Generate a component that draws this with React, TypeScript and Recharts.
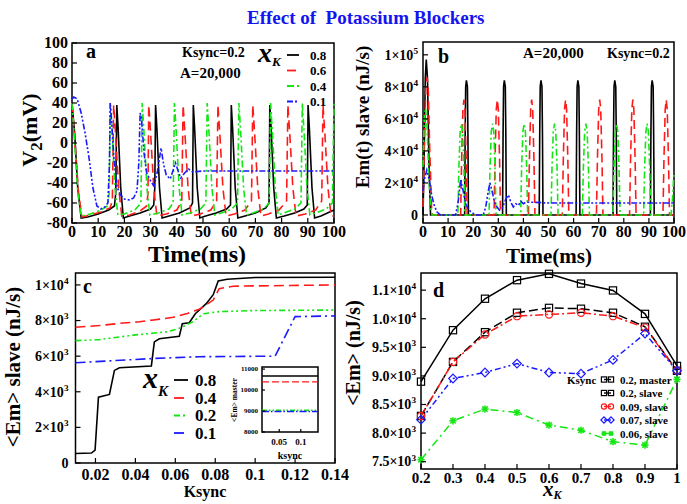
import React from 'react';
import { LineChart, Line, XAxis, YAxis, ReferenceArea, Legend, Label } from 'recharts';

const W = 687;
const H = 504;
const SERIF = '"Liberation Serif", "Times New Roman", Times, serif';
const AXIS_W = 60;
const AXIS_H = 30;

const BLACK = '#000000';
const RED = '#ff1a1a';
const GREEN = '#14e614';
const BLUE = '#1a1aff';

// ---- panel a: slave membrane potential V2 (mV) vs time (ms), Ksync = 0.2
const V2_XK08 = [
  [0, 40], [1, 10], [2.2, -45], [3.5, -75], [6, -74], [10, -71], [14, -67], [16.2, -63], [16.7, -50], [17.1, 38], [17.6, 15], [18.6, -45], [19.6, -75],
  [22, -73], [26, -70], [30, -66], [31.2, -62], [31.6, -45], [31.9, 38], [32.4, 15], [33.4, -45], [34.4, -75],
  [37, -73], [41, -70], [45, -65], [46, -60], [46.3, 38], [46.8, 15], [47.8, -45], [48.8, -75],
  [51, -73], [55, -70], [59, -66], [60.5, -62], [60.8, 38], [61.3, 15], [62.3, -45], [63.3, -75],
  [66, -73], [70, -70], [74, -65], [75.2, -60], [75.5, 38], [76, 15], [77, -45], [78, -75],
  [81, -73], [85, -70], [88.5, -66], [89.8, -62], [90.1, 38], [90.6, 15], [91.6, -45], [92.6, -75],
  [95, -73], [100, -67],
];
const V2_XK06 = [
  [0, 40], [1, 5], [2.5, -50], [3.8, -74], [7, -72], [11, -69], [14.5, -65], [15.4, -58], [15.9, 38], [16.6, 10], [17.8, -45], [19, -73],
  [22, -72], [26, -68], [28.5, -63], [29, -50], [29.3, 38], [30, 10], [31.2, -45], [32.4, -73],
  [36, -71], [40, -67], [41.9, -58], [42.4, 38], [43.1, 10], [44.3, -45], [45.5, -73],
  [49, -71], [53, -67], [55.2, -58], [55.7, 38], [56.4, 10], [57.6, -45], [58.8, -73],
  [62, -71], [66, -67], [68.5, -58], [69, 38], [69.7, 10], [70.9, -45], [72.1, -73],
  [75, -71], [79, -67], [81.9, -58], [82.4, 38], [83.1, 10], [84.3, -45], [85.5, -73],
  [89, -71], [93, -67], [95.3, -58], [95.8, 38], [96.5, 10], [97.7, -45], [98.9, -73], [100, -73],
];
const V2_XK04 = [
  [0, 40], [0.8, 10], [2.2, -50], [3.5, -73], [7, -71], [11, -67], [13.5, -63], [14.2, -50], [14.6, 40], [15.3, 10], [16.4, -45], [17.5, -72],
  [20, -71], [24, -67], [26.3, -60], [26.8, 40], [27.5, 10], [28.6, -45], [29.7, -72],
  [33, -70], [37, -66], [38.6, -60], [39.1, 40], [39.8, 10], [40.9, -45], [42, -72],
  [45, -70], [49, -66], [51.1, -60], [51.6, 40], [52.3, 10], [53.4, -45], [54.5, -72],
  [57, -70], [61, -66], [63.2, -60], [63.7, 40], [64.4, 10], [65.5, -45], [66.6, -72],
  [69, -70], [73, -66], [75.3, -60], [75.8, 40], [76.5, 10], [77.6, -45], [78.7, -72],
  [81, -70], [85, -66], [87.4, -60], [87.9, 40], [88.6, 10], [89.7, -45], [90.8, -72],
  [93, -70], [97, -66], [99.4, -60], [100, 40],
];
const V2_XK01 = [
  [0, 44], [0.7, 46], [2, 44], [3.5, 30], [5, 10], [6.5, -15], [8, -45], [9.5, -63], [11, -66], [12.5, -64], [13.7, -60],
  [14.3, -20], [14.6, 40], [15.2, 20], [16, -15], [17.2, -44], [18.5, -52], [20, -56], [22, -57], [23.5, -55], [24.8, -48],
  [25.5, -20], [26, 30], [26.5, 25], [27.5, -10], [28.5, -30], [30, -38], [31.3, -43], [32.5, -30], [34, -5], [35, -22],
  [36, -32], [37.5, -36], [38.5, -28], [39.5, -20], [40.5, -28], [41.5, -35], [43, -30], [44.5, -26], [46, -29], [50, -28], [100, -28],
];

// ---- panel b: slave energy consumption Em(t) (nJ/s) vs time (ms)
const EMT_XK08 = [
  [0, 0], [0.4, 30000], [0.9, 85000], [1.3, 97000], [1.8, 85000], [2.4, 30000], [3, 0],
  [16.6, 0], [16.8, 50000], [17, 80000], [17.3, 84000], [17.7, 80000], [17.9, 50000], [18.1, 0],
  [31.7, 0], [31.9, 50000], [32.1, 80000], [32.4, 84000], [32.8, 80000], [33, 50000], [33.2, 0],
  [46.3, 0], [46.5, 50000], [46.7, 80000], [47, 84000], [47.4, 80000], [47.6, 50000], [47.8, 0],
  [61, 0], [61.2, 50000], [61.4, 80000], [61.7, 84000], [62.1, 80000], [62.3, 50000], [62.5, 0],
  [75.7, 0], [75.9, 50000], [76.1, 80000], [76.4, 84000], [76.8, 80000], [77, 50000], [77.2, 0],
  [90.6, 0], [90.8, 50000], [91, 80000], [91.3, 84000], [91.7, 80000], [91.9, 50000], [92.1, 0],
  [100, 0],
];
const EMT_XK06 = [
  [0, 5000], [0.6, 50000], [1.2, 82000], [1.6, 86000], [2.1, 78000], [2.7, 40000], [3.4, 5000], [3.8, 0],
  [15, 0], [15.4, 35000], [15.9, 66000], [16.3, 72000], [16.7, 66000], [17.2, 35000], [17.6, 0],
  [28.3, 0], [28.7, 35000], [29.2, 66000], [29.6, 72000], [30, 66000], [30.5, 35000], [30.9, 0],
  [42, 0], [42.4, 35000], [42.9, 66000], [43.3, 72000], [43.7, 66000], [44.2, 35000], [44.6, 0],
  [55.5, 0], [55.9, 35000], [56.4, 66000], [56.8, 72000], [57.2, 66000], [57.7, 35000], [58.1, 0],
  [69.1, 0], [69.5, 35000], [70, 66000], [70.4, 72000], [70.8, 66000], [71.3, 35000], [71.7, 0],
  [82.3, 0], [82.7, 35000], [83.2, 66000], [83.6, 72000], [84, 66000], [84.5, 35000], [84.9, 0],
  [95.6, 0], [96, 35000], [96.5, 66000], [96.9, 72000], [97.3, 66000], [97.8, 35000], [98.2, 0],
  [100, 0],
];
const EMT_XK04 = [
  [0, 30000], [0.5, 60000], [1, 67000], [1.6, 55000], [2.3, 25000], [3, 5000], [3.6, 0],
  [13.9, 0], [14.3, 30000], [14.8, 52000], [15.3, 57000], [15.8, 52000], [16.3, 30000], [16.7, 0],
  [26.3, 0], [26.7, 30000], [27.2, 52000], [27.7, 57000], [28.2, 52000], [28.7, 30000], [29.1, 0],
  [38.9, 0], [39.3, 30000], [39.8, 52000], [40.3, 57000], [40.8, 52000], [41.3, 30000], [41.7, 0],
  [51, 0], [51.4, 30000], [51.9, 52000], [52.4, 57000], [52.9, 52000], [53.4, 30000], [53.8, 0],
  [63.5, 0], [63.9, 30000], [64.4, 52000], [64.9, 57000], [65.4, 52000], [65.9, 30000], [66.3, 0],
  [75.7, 0], [76.1, 30000], [76.6, 52000], [77.1, 57000], [77.6, 52000], [78.1, 30000], [78.5, 0],
  [87.9, 0], [88.3, 30000], [88.8, 52000], [89.3, 57000], [89.8, 52000], [90.3, 30000], [90.7, 0],
  [98.8, 0], [99.4, 10000], [100, 27000],
];
const EMT_XK01 = [
  [0, 15000], [0.5, 22000], [1.5, 28000], [2.5, 22000], [3.5, 12000], [4.5, 6000], [5.5, 2000], [7, 0], [13, 0],
  [14, 8000], [15, 22000], [16, 15000], [17, 7000], [18, 4000], [19, 2000], [20, 1000], [21, 0], [24, 0],
  [25, 5000], [26, 15000], [26.7, 20000], [27.5, 15000], [28.5, 8000], [29.5, 5000], [30.5, 3000], [31.5, 4000],
  [33, 10000], [34, 12500], [35, 8000], [36, 5000], [37, 7000], [38, 6000], [39, 8500], [40, 7000], [41, 8000],
  [43, 8000], [50, 7500], [100, 7500],
];

// ---- panel c: mean slave energy <Em> vs Ksync
const EMC_XK08 = [
  [0.01, 530], [0.018, 560], [0.0198, 720], [0.0215, 3700], [0.027, 3850], [0.0295, 5200], [0.032, 5350], [0.048, 5450],
  [0.0495, 6800], [0.052, 6980], [0.062, 7120], [0.0635, 7820], [0.067, 7880], [0.07, 8380], [0.0755, 8950], [0.079, 9450],
  [0.0815, 10220], [0.086, 10320], [0.1, 10420], [0.14, 10430],
];
const EMC_XK04 = [
  [0.01, 7620], [0.022, 7720], [0.032, 7840], [0.042, 7930], [0.049, 8030], [0.059, 8180], [0.066, 8400], [0.072, 8630],
  [0.079, 9150], [0.082, 9790], [0.089, 9930], [0.14, 10000],
];
const EMC_XK02 = [
  [0.01, 6870], [0.022, 6930], [0.039, 7180], [0.056, 7370], [0.062, 7560], [0.069, 7940], [0.074, 8380], [0.082, 8500],
  [0.099, 8560], [0.14, 8590],
];
const EMC_XK01 = [[0.01, 5630], [0.049, 5870], [0.072, 5970], [0.11, 6000], [0.12, 8220], [0.14, 8260]];

// inset: master <Em> vs ksync
const INSET_KSYNC = [0.01, 0.14];
const MASTER_XK08 = [10670, 10670];
const MASTER_XK04 = [10390, 10390];
const MASTER_XK02 = [9030, 9030];
const MASTER_XK01 = [8980, 8980];

// ---- panel d: mean energy vs xK
const XK = [0.2, 0.3, 0.4, 0.5, 0.6, 0.7, 0.8, 0.9, 1];
const EM_MASTER_K02 = [8900, 9800, 10350, 10675, 10785, 10615, 10495, 10085, 9175];
const EM_SLAVE_K02 = [8300, 9245, 9765, 10105, 10190, 10175, 10105, 9860, 9090];
const EM_SLAVE_K009 = [8300, 9245, 9725, 10045, 10075, 10105, 10045, 9845, 9090];
const EM_SLAVE_K007 = [8235, 8955, 9060, 9215, 9060, 9040, 9280, 9740, 9090];
const EM_SLAVE_K006 = [7535, 8215, 8420, 8360, 8140, 8050, 7850, 7790, 8940];

// ticks
const T_A_X = [0, 10, 20, 30, 40, 50, 60, 70, 80, 90, 100];
const T_A_Y = [-80, -60, -40, -20, 0, 20, 40, 60, 80, 100];
const T_B_Y = [0, 20000, 40000, 60000, 80000, 100000];
const L_B_Y = ['0', '2×10^4', '4×10^4', '6×10^4', '8×10^4', '1×10^5'];
const T_C_X = [0.02, 0.04, 0.06, 0.08, 0.1, 0.12, 0.14];
const L_C_X = ['0.02', '0.04', '0.06', '0.08', '0.1', '0.12', '0.14'];
const T_C_Y = [0, 2000, 4000, 6000, 8000, 10000];
const L_C_Y = ['0', '2×10^3', '4×10^3', '6×10^3', '8×10^3', '1×10^4'];
const T_IN_X = [0.05, 0.1];
const L_IN_X = ['0.05', '0.1'];
const T_IN_Y = [8000, 9000, 10000, 11000];
const T_D_X = [0.2, 0.3, 0.4, 0.5, 0.6, 0.7, 0.8, 0.9, 1];
const L_D_X = ['0.2', '0.3', '0.4', '0.5', '0.6', '0.7', '0.8', '0.9', '1'];
const T_D_Y = [7500, 8000, 8500, 9000, 9500, 10000, 10500];
const L_D_Y = ['7.5×10^3', '8.0×10^3', '8.5×10^3', '9.0×10^3', '9.5×10^3', '1.0×10^4', '1.1×10^4'];

type Box = { left: number; top: number; right: number; bottom: number };
const BOX_A: Box = { left: 72, top: 43, right: 334, bottom: 223 };
const BOX_B: Box = { left: 423, top: 42, right: 674, bottom: 223 };
const BOX_C: Box = { left: 75.5, top: 273, right: 335, bottom: 463 };
const BOX_IN: Box = { left: 262, top: 367, right: 318, bottom: 432 };
const BOX_D: Box = { left: 421, top: 273, right: 677, bottom: 469 };

const marginFor = (b: Box) => ({
  left: b.left - AXIS_W,
  top: b.top,
  right: W - b.right,
  bottom: H - b.bottom - AXIS_H,
});

const pts = (rows: number[][]) => rows.map(([t, v]) => ({ t, v }));

// "8×10^4" -> 8×10 with a raised 4
function sci(label: string, fs: number) {
  const [base, exp] = label.split('^');
  if (exp === undefined) return base;
  return (
    <>
      <tspan>{base}</tspan>
      <tspan dy={-fs * 0.42} fontSize={fs * 0.66}>{exp}</tspan>
    </>
  );
}

const pick = (ticks: number[], labels: string[] | null, v: number) => {
  const i = ticks.indexOf(v);
  return labels && i >= 0 ? labels[i] : String(v);
};

// inward tick marks on the frame edge, bold serif labels outside
const bottomTick = (ticks: number[], labels: string[] | null, fs: number, axisY: number, below: number, len = 5) => (p: any) => {
  const { x, payload } = p;
  return (
    <g>
      <line x1={x} x2={x} y1={axisY} y2={axisY - len} stroke="#000" strokeWidth={1.2} />
      <text x={x} y={axisY + below + fs * 0.34} textAnchor="middle" fontSize={fs} fontWeight="bold" fontFamily={SERIF} fill="#000">
        {sci(pick(ticks, labels, payload.value), fs)}
      </text>
    </g>
  );
};

const leftTick = (ticks: number[], labels: string[] | null, fs: number, axisX: number, gap: number, len = 5) => (p: any) => {
  const { y, payload } = p;
  return (
    <g>
      <line x1={axisX} x2={axisX + len} y1={y} y2={y} stroke="#000" strokeWidth={1.2} />
      <text x={axisX - gap} y={y + fs * 0.34} textAnchor="end" fontSize={fs} fontWeight="bold" fontFamily={SERIF} fill="#000">
        {sci(pick(ticks, labels, payload.value), fs)}
      </text>
    </g>
  );
};

const txt = (x: number, y: number, s: string, fs: number, extra: any = {}) => (
  <text x={x} y={y} fontSize={fs} fontWeight="bold" fontFamily={SERIF} fill="#000" {...extra}>{s}</text>
);

const vText = (x: number, y: number, fs: number, children: React.ReactNode) => (
  <text transform={`translate(${x},${y}) rotate(-90)`} textAnchor="middle" fontSize={fs} fontWeight="bold" fontFamily={SERIF} fill="#000">
    {children}
  </text>
);

const xkGlyph = (x: number, y: number, fs: number, sub: number, shift: number) => (
  <text x={x} y={y} fontFamily={SERIF} fontStyle="italic" fontWeight="bold" fill="#000">
    <tspan fontSize={fs}>x</tspan>
    <tspan fontSize={sub} dy={shift}>K</tspan>
  </text>
);

const frame = (x: [number, number], y: [number, number]) => (
  <ReferenceArea x1={x[0]} x2={x[1]} y1={y[0]} y2={y[1]} fill="none" stroke="#000" strokeWidth={1.5} ifOverflow="visible" />
);

const lineProps = { dot: false, activeDot: false, isAnimationActive: false, strokeWidth: 1.6 } as const;

// legend rows: short line sample and a bold label, in series order
const lineLegend = (left: number, top: number, order: string[], x0: number, x1: number, tx: number, ys: number[], fs: number, head: React.ReactNode) =>
  ({ payload }: any) => {
    const items = [...(payload || [])].sort((a: any, b: any) => order.indexOf(a.value) - order.indexOf(b.value));
    return (
      <svg width={W} height={H} style={{ display: 'block', overflow: 'visible', position: 'absolute', left: -left, top: -top }}>
        {head}
        {items.map((e: any, i: number) => (
          <g key={i}>
            <line x1={x0} x2={x1} y1={ys[i]} y2={ys[i]} stroke={e.color} strokeWidth={1.8}
              strokeDasharray={e.payload?.strokeDasharray} />
            {txt(tx, ys[i] + fs * 0.35, e.value, fs)}
          </g>
        ))}
      </svg>
    );
  };

const legendA = lineLegend(250, 40, ['0.8', '0.6', '0.4', '0.1'], 287, 299, 310, [55, 70.5, 86, 101.5], 13, xkGlyph(258, 62, 28, 13, 4));
const legendC = lineLegend(140, 365, ['0.8', '0.4', '0.2', '0.1'], 174, 188, 195, [380, 398, 415.5, 433], 17, xkGlyph(143, 388, 30, 15, 8));

type Marker = 'square' | 'circle' | 'diamond' | 'star';

function marker(kind: Marker, cx: number, cy: number, color: string, s = 3.6, key?: string) {
  if (cx == null || cy == null) return <g key={key} />;
  switch (kind) {
    case 'square':
      return <rect key={key} x={cx - s} y={cy - s} width={2 * s} height={2 * s} fill="none" stroke={color} strokeWidth={1.2} />;
    case 'circle':
      return <circle key={key} cx={cx} cy={cy} r={s} fill="none" stroke={color} strokeWidth={1.2} />;
    case 'diamond': {
      const d = s * 1.2;
      return <path key={key} d={`M${cx},${cy - d}L${cx + d},${cy}L${cx},${cy + d}L${cx - d},${cy}Z`} fill="none" stroke={color} strokeWidth={1.2} />;
    }
    default: {
      const d = s * 0.75;
      return (
        <g key={key} stroke={color} strokeWidth={1.6}>
          <line x1={cx - s} x2={cx + s} y1={cy} y2={cy} />
          <line x1={cx} x2={cx} y1={cy - s} y2={cy + s} />
          <line x1={cx - d} x2={cx + d} y1={cy - d} y2={cy + d} />
          <line x1={cx - d} x2={cx + d} y1={cy + d} y2={cy - d} />
        </g>
      );
    }
  }
}

const D_SERIES: { key: string; name: string; color: string; dash?: string; marker: Marker }[] = [
  { key: 'master02', name: '0.2, master', color: BLACK, marker: 'square' },
  { key: 'slave02', name: '0.2, slave', color: BLACK, dash: '9 4', marker: 'square' },
  { key: 'slave009', name: '0.09, slave', color: RED, dash: '8 3 2 3', marker: 'circle' },
  { key: 'slave007', name: '0.07, slave', color: BLUE, dash: '6 3 2 3 2 3', marker: 'diamond' },
  { key: 'slave006', name: '0.06, slave', color: GREEN, dash: '8 4 2 4', marker: 'star' },
];

const dataD = XK.map((x, i) => ({
  x,
  master02: EM_MASTER_K02[i],
  slave02: EM_SLAVE_K02[i],
  slave009: EM_SLAVE_K009[i],
  slave007: EM_SLAVE_K007[i],
  slave006: EM_SLAVE_K006[i],
}));

const dataInset = INSET_KSYNC.map((k, i) => ({
  k,
  m08: MASTER_XK08[i],
  m04: MASTER_XK04[i],
  m02: MASTER_XK02[i],
  m01: MASTER_XK01[i],
}));

const seriesIndex = (key: string) => D_SERIES.findIndex((d) => d.key === key);

const legendD = ({ payload }: any) => {
  const items = [...(payload || [])].sort((a: any, b: any) => seriesIndex(a.dataKey) - seriesIndex(b.dataKey));
  return (
    <svg width={W} height={H} style={{ display: 'block', overflow: 'visible', position: 'absolute', left: -565, top: -370 }}>
      {txt(567, 383.5, 'Ksync', 11)}
      {items.map((e: any, i: number) => {
        const s = D_SERIES[seriesIndex(e.dataKey)] || D_SERIES[0];
        const y = 379.5 + 13.5 * i;
        return (
          <g key={i}>
            <line x1={604} x2={611} y1={y} y2={y} stroke={s.color} strokeWidth={1.4} />
            {marker(s.marker, 604, y, s.color, 2.6)}
            {marker(s.marker, 611, y, s.color, 2.6)}
            {txt(620, y + 4, s.name, 11)}
          </g>
        );
      })}
    </svg>
  );
};

const legendWrap = (left: number, top: number) => ({ left, top, width: 10, height: 10, position: 'absolute' as const });

const layer: React.CSSProperties = { position: 'absolute', left: 0, top: 0 };

export default function App() {
  return (
    <div style={{ position: 'fixed', left: 0, top: 0, width: W, height: H, background: '#fff', overflow: 'hidden' }}>
      <div style={{ position: 'absolute', left: 247, top: 8, fontFamily: SERIF, fontWeight: 'bold', fontSize: 19, lineHeight: '19px', color: '#1414f0', whiteSpace: 'pre' }}>
        {'Effect of  Potassium Blockers'}
      </div>

      {/* a: membrane potential */}
      <div style={layer}>
        <LineChart width={W} height={H} margin={marginFor(BOX_A)}>
          <XAxis dataKey="t" type="number" domain={[0, 100]} ticks={T_A_X} interval={0} height={AXIS_H} axisLine={false}
            tickLine={false} tick={bottomTick(T_A_X, null, 16, BOX_A.bottom, 9)}>
            <Label content={() => txt(197, 262, 'Time(ms)', 24, { textAnchor: 'middle' })} />
            <Label content={() => (
              <g>
                {txt(86, 58, 'a', 20)}
                {txt(182, 57, 'Ksync=0.2', 14)}
                {txt(180, 78, 'A=20,000', 15)}
              </g>
            )} />
          </XAxis>
          <YAxis type="number" domain={[-80, 100]} ticks={T_A_Y} interval={0} width={AXIS_W} axisLine={false}
            tickLine={false} tick={leftTick(T_A_Y, null, 16, BOX_A.left, 4)}>
            <Label content={() => vText(37, 130, 22, <>V<tspan dy={5} fontSize={17}>2</tspan><tspan dy={-5}>(mV)</tspan></>)} />
          </YAxis>
          {frame([0, 100], [-80, 100])}
          <Line data={pts(V2_XK08)} dataKey="v" name="0.8" stroke={BLACK} {...lineProps} />
          <Line data={pts(V2_XK06)} dataKey="v" name="0.6" stroke={RED} strokeDasharray="9 5" {...lineProps} />
          <Line data={pts(V2_XK04)} dataKey="v" name="0.4" stroke={GREEN} strokeDasharray="7 3 2 3" {...lineProps} />
          <Line data={pts(V2_XK01)} dataKey="v" name="0.1" stroke={BLUE} strokeDasharray="6 2 2 2 2 2" {...lineProps} />
          <Legend layout="vertical" align="center" verticalAlign="middle" content={legendA} wrapperStyle={legendWrap(250, 40)} />
        </LineChart>
      </div>

      {/* b: instantaneous energy consumption */}
      <div style={layer}>
        <LineChart width={W} height={H} margin={marginFor(BOX_B)}>
          <XAxis dataKey="t" type="number" domain={[0, 100]} ticks={T_A_X} interval={0} height={AXIS_H} axisLine={false}
            tickLine={false} tick={bottomTick(T_A_X, null, 16, BOX_B.bottom, 9)}>
            <Label content={() => txt(549, 263, 'Time(ms)', 21, { textAnchor: 'middle' })} />
            <Label content={() => (
              <g>
                {txt(438, 63, 'b', 20)}
                {txt(523, 58, 'A=20,000', 15)}
                {txt(607, 58, 'Ksync=0.2', 14)}
              </g>
            )} />
          </XAxis>
          <YAxis type="number" domain={[-5000, 108000]} ticks={T_B_Y} interval={0} width={AXIS_W} axisLine={false}
            tickLine={false} tick={leftTick(T_B_Y, L_B_Y, 14, BOX_B.left, 5)}>
            <Label content={() => vText(369, 117, 19, 'Em(t) slave (nJ/s)')} />
          </YAxis>
          {frame([0, 100], [-5000, 108000])}
          <Line data={pts(EMT_XK08)} dataKey="v" name="0.8" stroke={BLACK} {...lineProps} />
          <Line data={pts(EMT_XK06)} dataKey="v" name="0.6" stroke={RED} strokeDasharray="9 5" {...lineProps} />
          <Line data={pts(EMT_XK04)} dataKey="v" name="0.4" stroke={GREEN} strokeDasharray="7 3 2 3" {...lineProps} />
          <Line data={pts(EMT_XK01)} dataKey="v" name="0.1" stroke={BLUE} strokeDasharray="6 2 2 2 2 2" {...lineProps} />
        </LineChart>
      </div>

      {/* c: mean slave energy vs coupling */}
      <div style={layer}>
        <LineChart width={W} height={H} margin={marginFor(BOX_C)}>
          <XAxis dataKey="t" type="number" domain={[0.01, 0.14]} ticks={T_C_X} interval={0} height={AXIS_H} axisLine={false}
            tickLine={false} tick={bottomTick(T_C_X, L_C_X, 16, BOX_C.bottom, 12)}>
            <Label content={() => txt(205, 497, 'Ksync', 16, { textAnchor: 'middle' })} />
            <Label content={() => txt(83, 293, 'c', 20)} />
          </XAxis>
          <YAxis type="number" domain={[0, 10670]} ticks={T_C_Y} interval={0} width={AXIS_W} axisLine={false}
            tickLine={false} tick={leftTick(T_C_Y, L_C_Y, 14, BOX_C.left, 7)}>
            <Label content={() => vText(20, 367, 21, '<Em> slave (nJ/s)')} />
          </YAxis>
          {frame([0.01, 0.14], [0, 10670])}
          <Line data={pts(EMC_XK08)} dataKey="v" name="0.8" stroke={BLACK} {...lineProps} />
          <Line data={pts(EMC_XK04)} dataKey="v" name="0.4" stroke={RED} strokeDasharray="10 5" {...lineProps} />
          <Line data={pts(EMC_XK02)} dataKey="v" name="0.2" stroke={GREEN} strokeDasharray="6 3 2 3 2 3" {...lineProps} />
          <Line data={pts(EMC_XK01)} dataKey="v" name="0.1" stroke={BLUE} strokeDasharray="10 4 2 4" {...lineProps} />
          <Legend layout="vertical" align="center" verticalAlign="middle" content={legendC} wrapperStyle={legendWrap(140, 365)} />
        </LineChart>
      </div>

      {/* c inset: master energy */}
      <div style={layer}>
        <LineChart width={W} height={H} margin={marginFor(BOX_IN)} data={dataInset}>
          <XAxis dataKey="k" type="number" domain={[0.01, 0.14]} ticks={T_IN_X} interval={0} height={AXIS_H} axisLine={false}
            tickLine={false} tick={bottomTick(T_IN_X, L_IN_X, 9, BOX_IN.bottom, 10, 3)}>
            <Label content={() => txt(290, 459, 'ksync', 10, { textAnchor: 'middle' })} />
          </XAxis>
          <YAxis type="number" domain={[8000, 11100]} ticks={T_IN_Y} interval={0} width={AXIS_W} axisLine={false}
            tickLine={false} tick={leftTick(T_IN_Y, null, 7, BOX_IN.left, 4, 3)}>
            <Label content={() => vText(237, 400, 7.5, '<Em> master')} />
          </YAxis>
          {frame([0.01, 0.14], [8000, 11100])}
          <Line dataKey="m08" stroke={BLACK} {...lineProps} strokeWidth={1.4} />
          <Line dataKey="m04" stroke={RED} strokeDasharray="7 3" {...lineProps} strokeWidth={1.4} />
          <Line dataKey="m02" stroke={GREEN} strokeDasharray="5 2 1.5 2 1.5 2" {...lineProps} strokeWidth={1.6} />
          <Line dataKey="m01" stroke={BLUE} strokeDasharray="7 2 1.5 2" {...lineProps} strokeWidth={1.4} />
        </LineChart>
      </div>

      {/* d: mean energy vs xK */}
      <div style={layer}>
        <LineChart width={W} height={H} margin={marginFor(BOX_D)} data={dataD}>
          <XAxis dataKey="x" type="number" domain={[0.2, 1]} ticks={T_D_X} interval={0} height={AXIS_H} axisLine={false}
            tickLine={false} tick={bottomTick(T_D_X, L_D_X, 15, BOX_D.bottom, 9)}>
            <Label content={() => xkGlyph(543, 496, 21, 12, 3)} />
            <Label content={() => txt(433, 297, 'd', 20)} />
          </XAxis>
          <YAxis type="number" domain={[7372, 10800]} ticks={T_D_Y} interval={0} width={AXIS_W} axisLine={false}
            tickLine={false} tick={leftTick(T_D_Y, L_D_Y, 14, BOX_D.left, 5)}>
            <Label content={() => vText(360, 353, 20, '<Em> (nJ/s)')} />
          </YAxis>
          {frame([0.2, 1], [7372, 10800])}
          {D_SERIES.map((s) => (
            <Line key={s.key} dataKey={s.key} name={s.name} stroke={s.color} strokeDasharray={s.dash}
              strokeWidth={1.5} isAnimationActive={false} activeDot={false}
              dot={(p: any) => marker(s.marker, p.cx, p.cy, s.color, 3.6, `${s.key}-${p.index}`)} />
          ))}
          <Legend layout="vertical" align="center" verticalAlign="middle" content={legendD} wrapperStyle={legendWrap(565, 370)} />
        </LineChart>
      </div>
    </div>
  );
}
